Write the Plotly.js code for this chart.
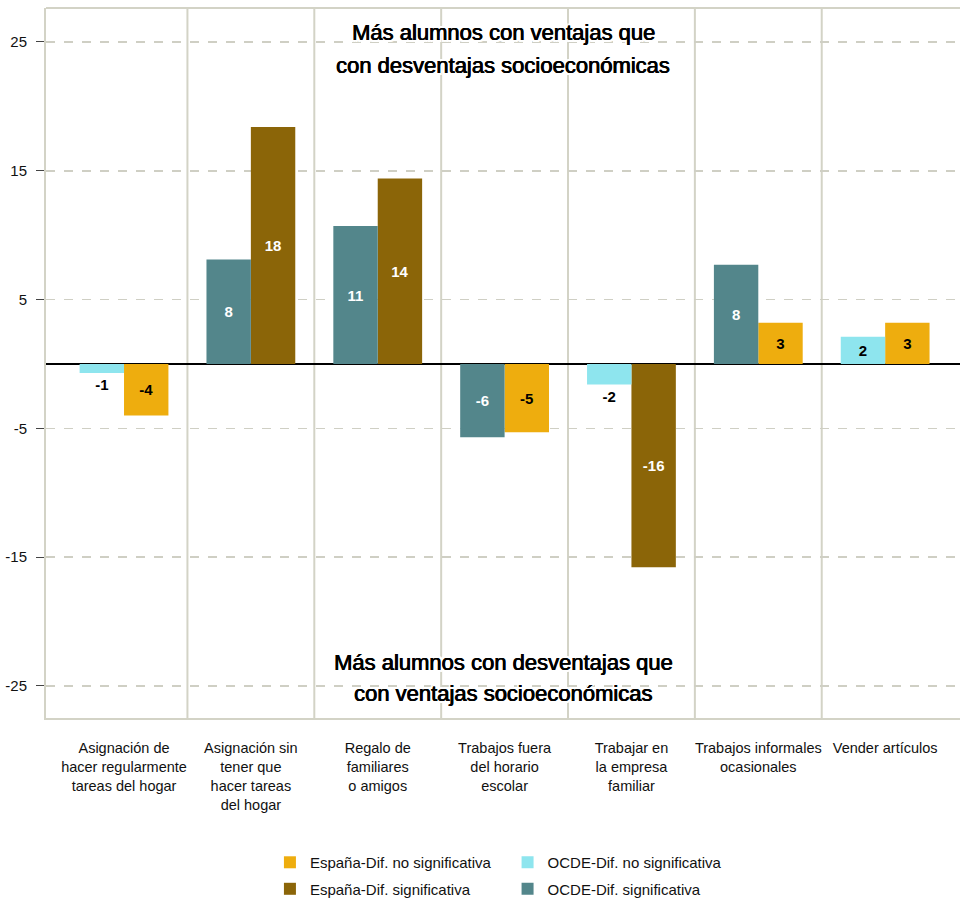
<!DOCTYPE html>
<html>
<head>
<meta charset="utf-8">
<script src="https://cdn.plot.ly/plotly-3.0.1.min.js"></script>
<style>html,body{margin:0;padding:0;background:#fff;}#chart{width:960px;height:901px;}</style>
</head>
<body>
<div id="chart"></div>
<script>
const categories = [
  "Asignación de<br>hacer regularmente<br>tareas del hogar",
  "Asignación sin<br>tener que<br>hacer tareas<br>del hogar",
  "Regalo de<br>familiares<br>o amigos",
  "Trabajos fuera<br>del horario<br>escolar",
  "Trabajar en<br>la empresa<br>familiar",
  "Trabajos informales<br>ocasionales",
  "Vender artículos"
];
const ocdeValues = [-0.7, 8.1, 10.7, -5.7, -1.6, 7.7, 2.1];
const ocdeSignif = [false, true, true, true, false, true, false];
const espValues = [-4.0, 18.4, 14.4, -5.3, -15.8, 3.2, 3.2];
const espSignif = [false, true, true, false, true, false, false];
const yTicks = [25, 15, 5, -5, -15, -25];
const topNote = ["Más alumnos con ventajas que", "con desventajas socioeconómicas"];
const bottomNote = ["Más alumnos con desventajas que", "con ventajas socioeconómicas"];

const colors = {
  espNo: "#EEAD0E", espSi: "#8B6508", ocdeNo: "#8EE5EE", ocdeSi: "#53868B"
};

function makeTrace(values, signif, flag, name, color, textColor, offset, legend) {
  const y = values.map((v, i) => signif[i] === flag ? v : null);
  return {
    type: "bar", x: categories, y: y, name: name,
    marker: {color: color, line: {width: 0}},
    offset: offset, width: 0.35,
    texttemplate: "%{y:.0f}",
    textposition: y.map(v => (v !== null && Math.abs(v) < 1.8) ? "outside" : "inside"),
    insidetextanchor: "middle",
    constraintext: "none",
    cliponaxis: false,
    insidetextfont: {family: "Liberation Sans, Arial, sans-serif", size: 15, color: textColor, weight: "bold"},
    outsidetextfont: {family: "Liberation Sans, Arial, sans-serif", size: 15, color: "#000", weight: "bold"},
    hoverinfo: "skip",
    legend: legend,
    legendgroup: name
  };
}

const traces = [
  makeTrace(espValues, espSignif, false, "España-Dif. no significativa", colors.espNo, "#000", 0, "legend"),
  makeTrace(espValues, espSignif, true, "España-Dif. significativa", colors.espSi, "#fff", 0, "legend"),
  makeTrace(ocdeValues, ocdeSignif, false, "OCDE-Dif. no significativa", colors.ocdeNo, "#000", -0.35, "legend2"),
  makeTrace(ocdeValues, ocdeSignif, true, "OCDE-Dif. significativa", colors.ocdeSi, "#fff", -0.35, "legend2")
];

const frameColor = "#d3d3c6";
const shapes = categories.slice(1).map((c, i) => ({
  type: "line", xref: "x", yref: "paper", x0: i + 0.5, x1: i + 0.5, y0: 0, y1: 1,
  line: {color: frameColor, width: 2}, layer: "below"
}));
shapes.push({type: "line", xref: "paper", yref: "paper", x0: 0, x1: 1, y0: 1, y1: 1,
  line: {color: frameColor, width: 2}, layer: "below"});

const noteFont = {family: "Liberation Sans, Arial, sans-serif", size: 22, color: "#000",
  shadow: "0.5px 0 0 #000, -0.3px 0 0 #000, 2px 0 0 #fff, -2px 0 0 #fff, 0 2px 0 #fff, 0 -2px 0 #fff, 2px 2px 0 #fff, -2px -2px 0 #fff, 2px -2px 0 #fff, -2px 2px 0 #fff"};
const noteY = [25.7, 23.2, -23.2, -25.6];
const notes = topNote.concat(bottomNote).map((t, i) => ({
  text: t, xref: "paper", x: 0.5, yref: "y", y: noteY[i], showarrow: false,
  xanchor: "center", yanchor: "middle", font: noteFont
}));

const legendFont = {family: "Liberation Sans, Arial, sans-serif", size: 15, color: "#111"};
const legendBase = {yref: "container", y: 0.061, xanchor: "left", yanchor: "top", orientation: "v",
  font: legendFont, bgcolor: "rgba(0,0,0,0)", traceorder: "grouped", tracegroupgap: 4};
const layout = {
  width: 960, height: 901,
  margin: {l: 46, r: 0, t: 8, b: 183},
  paper_bgcolor: "#fff", plot_bgcolor: "#fff",
  barmode: "overlay",
  showlegend: true,
  xaxis: {
    type: "category", range: [-0.615, 6.59], showgrid: false, zeroline: false,
    showline: true, linecolor: frameColor, linewidth: 2, ticks: "",
    tickfont: {family: "Liberation Sans, Arial, sans-serif", size: 14.5, color: "#111"},
    ticklabelstandoff: 16, fixedrange: true
  },
  yaxis: {
    range: [-27.5, 27.64], tickvals: yTicks, ticktext: yTicks.map(String),
    showgrid: true, gridcolor: "#cfcfc4", gridwidth: 1.5, griddash: "dash",
    zeroline: true, zerolinecolor: "#000", zerolinewidth: 1.5,
    showline: true, linecolor: frameColor, linewidth: 2,
    ticks: "outside", ticklen: 8, tickcolor: "#444", tickwidth: 1,
    tickfont: {family: "Liberation Sans, Arial, sans-serif", size: 15, color: "#111"},
    ticklabelstandoff: 6, fixedrange: true
  },
  legend: Object.assign({x: 0.245}, legendBase),
  legend2: Object.assign({x: 0.505}, legendBase),
  shapes: shapes,
  annotations: notes
};

Plotly.newPlot("chart", traces, layout, {displayModeBar: false, staticPlot: true});
</script>
</body>
</html>
